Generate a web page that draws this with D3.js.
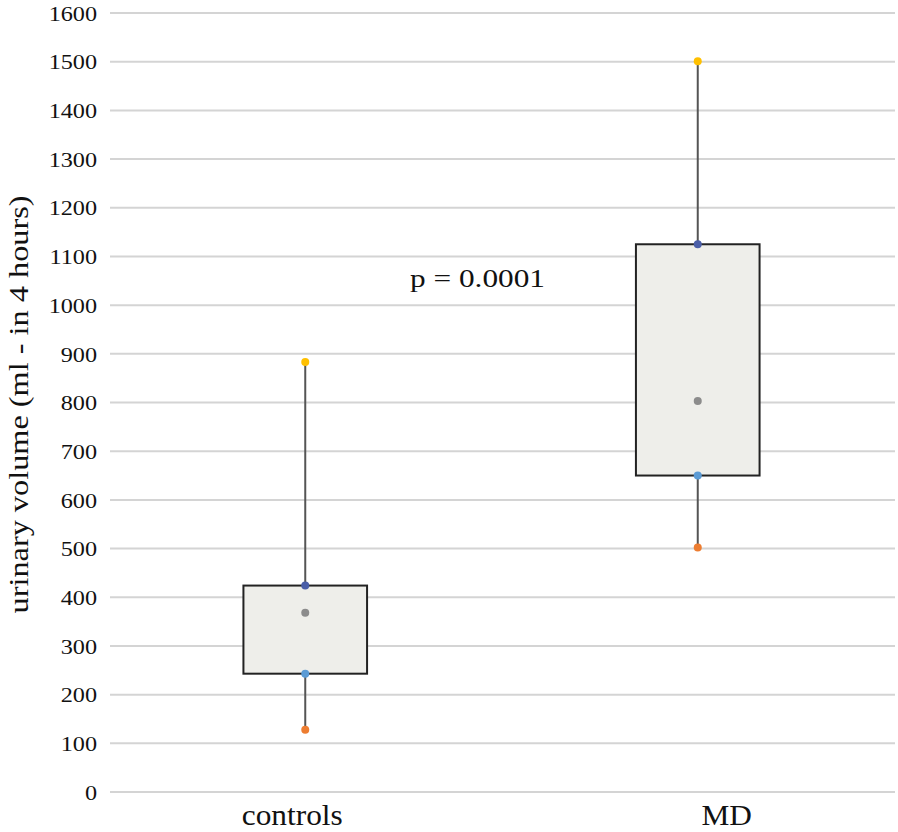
<!DOCTYPE html>
<html>
<head>
<meta charset="utf-8">
<script src="https://cdn.jsdelivr.net/npm/d3@7"></script>
<style>
  body { margin: 0; background: #fff; }
  svg { display: block; }
  text { font-family: "Liberation Serif", Tinos, "Times New Roman", "DejaVu Serif", serif; fill: #111; }
</style>
</head>
<body>
<svg id="chart"></svg>
<script>
const categories = ["controls", "MD"];
const minVals = [128, 502];
const q1Vals = [243, 650];
const q3Vals = [424, 1125];
const maxVals = [883, 1501];
const meanVals = [368, 803];
const yTicks = [0, 100, 200, 300, 400, 500, 600, 700, 800, 900, 1000, 1100, 1200, 1300, 1400, 1500, 1600];
const annotation = "p = 0.0001";

const W = 898, H = 832;
const margin = { top: 13, right: 3, bottom: 40, left: 110 };
const width = W - margin.left - margin.right,
  height = H - margin.top - margin.bottom;

const svg = d3.select("#chart").attr("width", W).attr("height", H);
const g = svg.append("g").attr("transform", `translate(${margin.left},${margin.top})`);

const x = d3.scaleBand().domain(categories).range([0, width]).padding(0);
const y = d3.scaleLinear().domain([0, 1600]).range([height, 0]);

// gridlines
g.append("g")
  .selectAll("line")
  .data(yTicks)
  .join("line")
  .attr("x1", 0)
  .attr("x2", width)
  .attr("y1", (d) => y(d))
  .attr("y2", (d) => y(d))
  .attr("stroke", "#d4d4d4")
  .attr("stroke-width", 2);

// y tick labels (source text is slightly stretched horizontally)
g.append("g")
  .selectAll("text")
  .data(yTicks)
  .join("text")
  .attr("transform", (d) => `translate(-13,${y(d)}) scale(1.1,1)`)
  .attr("dy", "0.35em")
  .attr("text-anchor", "end")
  .style("font-size", "22px")
  .text((d) => d);

const data = categories.map((c, i) => ({
  cat: c,
  min: minVals[i],
  q1: q1Vals[i],
  q3: q3Vals[i],
  max: maxVals[i],
  mean: meanVals[i],
}));

const boxW = x.bandwidth() * 0.315;
const cx = (d) => x(d.cat) + x.bandwidth() / 2 - 1;

// whiskers
g.append("g")
  .selectAll("line")
  .data(data)
  .join("line")
  .attr("x1", cx)
  .attr("x2", cx)
  .attr("y1", (d) => y(d.min))
  .attr("y2", (d) => y(d.max))
  .attr("stroke", "#555")
  .attr("stroke-width", 2);

// boxes
g.append("g")
  .selectAll("rect")
  .data(data)
  .join("rect")
  .attr("x", (d) => cx(d) - boxW / 2)
  .attr("y", (d) => y(d.q3))
  .attr("width", boxW)
  .attr("height", (d) => y(d.q1) - y(d.q3))
  .attr("fill", "#eeeeea")
  .attr("stroke", "#222")
  .attr("stroke-width", 2);

// points
const pts = [
  { key: "min", color: "#ed7d31" },
  { key: "q1", color: "#5b9bd5" },
  { key: "q3", color: "#4a5ea8" },
  { key: "max", color: "#ffc000" },
  { key: "mean", color: "#8c8c8c" },
];
pts.forEach((p) => {
  g.append("g")
    .selectAll("circle")
    .data(data)
    .join("circle")
    .attr("cx", cx)
    .attr("cy", (d) => y(d[p.key]))
    .attr("r", 4)
    .attr("fill", p.color);
});

// x labels - not centred under the boxes in the source
const labelShift = (i) => (i === 0 ? -14 : 28);
g.append("g")
  .selectAll("text")
  .data(categories)
  .join("text")
  .attr("transform", (d, i) =>
    `translate(${x(d) + x.bandwidth() / 2 + labelShift(i)},${height + 33}) scale(1.08,1)`)
  .attr("text-anchor", "middle")
  .style("font-size", "29px")
  .text((d) => d);

// annotation
g.append("text")
  .attr("x", 300)
  .attr("y", y(1038))
  .attr("textLength", 135)
  .attr("lengthAdjust", "spacingAndGlyphs")
  .style("font-size", "26px")
  .text(annotation);

// y title
svg.append("text")
  .attr("transform", `translate(28,${margin.top + height / 2 + 2}) rotate(-90)`)
  .attr("text-anchor", "middle")
  .attr("textLength", 418)
  .attr("lengthAdjust", "spacingAndGlyphs")
  .style("font-size", "28px")
  .text("urinary volume (ml - in 4 hours)");
</script>
</body>
</html>
